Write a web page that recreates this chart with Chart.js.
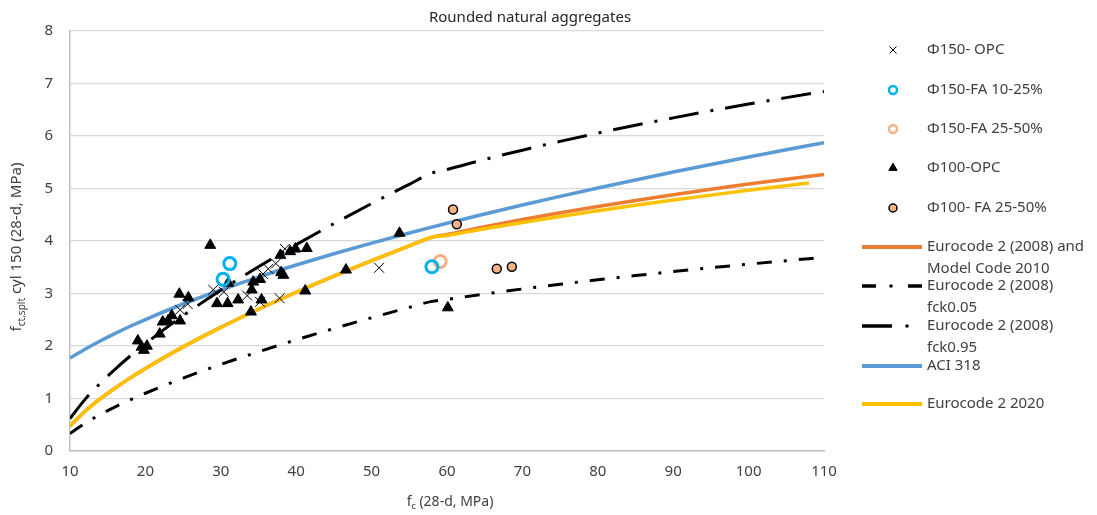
<!DOCTYPE html>
<html>
<head>
<meta charset="utf-8">
<script src="https://cdn.jsdelivr.net/npm/chart.js@4.4.1/dist/chart.umd.min.js"></script>
<style>
html,body{margin:0;padding:0;background:#fff;}
canvas{display:block;}
</style>
</head>
<body>
<canvas id="c" width="1097" height="515"></canvas>
<script>
// ---------- DATA ----------
const TITLE = "Rounded natural aggregates";
const X_TICKS = [10,20,30,40,50,60,70,80,90,100,110];
const Y_TICKS = [0,1,2,3,4,5,6,7,8];

// Φ150- OPC
const P150_OPC_X = [24.6, 25.6, 29.0, 30.4, 33.5, 35.2, 37.8, 35.6, 36.3, 37.3, 38.5, 51.0];
const P150_OPC_Y = [2.69, 2.80, 3.07, 3.03, 2.96, 2.84, 2.91, 3.37, 3.47, 3.57, 3.85, 3.49];
// Φ150-FA 10-25%
const P150_FA10_X = [30.3, 31.2, 58.0];
const P150_FA10_Y = [3.27, 3.57, 3.51];
// Φ150-FA 25-50%
const P150_FA25_X = [59.1];
const P150_FA25_Y = [3.61];
// Φ100-OPC
const P100_OPC_X = [19.0, 19.5, 19.8, 20.2, 21.9, 22.3, 23.0, 23.5, 24.5, 24.6, 25.7, 28.6, 29.5, 30.9, 31.0, 32.3, 34.0, 34.1, 34.3, 35.2, 35.4, 37.9, 38.0, 38.3, 39.2, 39.9, 41.2, 41.4, 46.6, 53.7, 60.1];
const P100_OPC_Y = [2.10, 1.98, 1.92, 2.00, 2.23, 2.46, 2.48, 2.58, 2.99, 2.48, 2.92, 3.92, 2.81, 2.81, 3.20, 2.88, 2.65, 3.07, 3.22, 3.27, 2.88, 3.73, 3.40, 3.35, 3.80, 3.85, 3.05, 3.86, 3.45, 4.15, 2.73];
// Φ100- FA 25-50%
const P100_FA25_X = [60.8, 61.3, 66.6, 68.6];
const P100_FA25_Y = [4.60, 4.32, 3.47, 3.51];

// Code curves
const FC_LINE = [10,12,14,16,18,20,25,30,35,40,45,50,55,58,60,65,70,75,80,85,90,95,100,105,110];
const EC2_2008 = [0.476,0.756,0.991,1.200,1.393,1.572,1.983,2.355,2.700,3.024,3.331,3.625,3.907,4.072,4.125,4.272,4.408,4.537,4.658,4.773,4.881,4.985,5.084,5.178,5.268];
const EC2_005 = [0.333,0.529,0.694,0.840,0.975,1.100,1.388,1.649,1.890,2.117,2.332,2.538,2.735,2.850,2.888,2.990,3.086,3.176,3.261,3.341,3.417,3.490,3.559,3.625,3.688];
const EC2_095 = [0.619,0.983,1.288,1.560,1.811,2.044,2.578,3.062,3.510,3.931,4.330,4.713,5.079,5.294,5.363,5.554,5.730,5.898,6.055,6.205,6.345,6.481,6.609,6.731,6.848];
const ACI318 = [1.771,1.940,2.095,2.240,2.376,2.504,2.800,3.067,3.313,3.542,3.757,3.960,4.153,4.265,4.338,4.515,4.685,4.850,5.009,5.163,5.313,5.458,5.600,5.738,5.873];
const FC_EC2020 = [10,12,14,16,18,20,25,30,35,40,45,50,55,58,60,65,70,75,80,85,90,95,100,105,108];
const EC2_2020 = [0.476,0.756,0.991,1.200,1.393,1.572,1.983,2.355,2.700,3.024,3.331,3.625,3.907,4.072,4.106,4.233,4.354,4.468,4.576,4.680,4.779,4.874,4.966,5.054,5.106];

// ---------- STYLE ----------
const FONT = '"Noto Sans", "Liberation Sans", sans-serif';
const TXT = '#404040';
const C_ORANGE = '#ED7D31', C_BLUE = '#5B9BD5', C_YELLOW = '#FFC000';
const C_CYAN = '#00B0F0', C_PEACH = '#F4B183';
const DASH_005 = [15,12,3,12];
const DASH_095 = [30,12,3,12];

const pts = (xs, ys) => xs.map((x,i)=>({x:x, y:ys[i]}));

const lineDs = (label, xs, ys, color, width, dash, order) => ({
  label, data: pts(xs, ys), showLine: true, pointRadius: 0, pointHoverRadius: 0,
  borderColor: color, backgroundColor: color, borderWidth: width,
  borderDash: dash || [], cubicInterpolationMode: 'monotone', order: order, fill: false
});

const datasets = [
  {label:'Φ150- OPC', data: pts(P150_OPC_X,P150_OPC_Y), pointStyle:'crossRot', pointRadius:7, borderColor:'#000', borderWidth:1, backgroundColor:'#000', order:0},
  {label:'Φ150-FA 10-25%', data: pts(P150_FA10_X,P150_FA10_Y), pointStyle:'circle', pointRadius:6, borderColor:C_CYAN, borderWidth:3, backgroundColor:'rgba(0,0,0,0)', order:0},
  {label:'Φ150-FA 25-50%', data: pts(P150_FA25_X,P150_FA25_Y), pointStyle:'circle', pointRadius:6, borderColor:C_PEACH, borderWidth:3, backgroundColor:'rgba(0,0,0,0)', order:0},
  {label:'Φ100-OPC', data: pts(P100_OPC_X,P100_OPC_Y), pointStyle:'triangle', pointRadius:6.3, borderColor:'#000', borderWidth:1, backgroundColor:'#000', order:0},
  {label:'Φ100- FA 25-50%', data: pts(P100_FA25_X,P100_FA25_Y), pointStyle:'circle', pointRadius:4.5, borderColor:'#000', borderWidth:1.5, backgroundColor:C_PEACH, order:0},
  lineDs('Eurocode 2 (2008) and Model Code 2010', FC_LINE, EC2_2008, C_ORANGE, 3.5, null, 5),
  lineDs('Eurocode 2 (2008) fck0.05', FC_LINE, EC2_005, '#000', 3, DASH_005, 2),
  lineDs('Eurocode 2 (2008) fck0.95', FC_LINE, EC2_095, '#000', 3, DASH_095, 2),
  lineDs('ACI 318', FC_LINE, ACI318, C_BLUE, 3.5, null, 3),
  lineDs('Eurocode 2 2020', FC_EC2020, EC2_2020, C_YELLOW, 3.5, null, 4),
];

// ---------- OVERLAY (title, axis titles with subscripts, legend) ----------
function drawRuns(ctx, runs, cx, cy) {
  let total = 0;
  runs.forEach(r => { ctx.font = r[1] + 'px ' + FONT; total += ctx.measureText(r[0]).width; });
  let x = cx - total/2;
  ctx.textAlign = 'left';
  ctx.textBaseline = 'alphabetic';
  runs.forEach(r => {
    ctx.font = r[1] + 'px ' + FONT;
    ctx.fillText(r[0], x, cy + r[2]);
    x += ctx.measureText(r[0]).width;
  });
}

const LEG = [
  {t:'marker', ds:0, y:50, lines:['Φ150- OPC']},
  {t:'marker', ds:1, y:90, lines:['Φ150-FA 10-25%']},
  {t:'marker', ds:2, y:129, lines:['Φ150-FA 25-50%']},
  {t:'marker', ds:3, y:168, lines:['Φ100-OPC']},
  {t:'marker', ds:4, y:208, lines:['Φ100- FA 25-50%']},
  {t:'line', ds:5, y:247, lines:['Eurocode 2 (2008) and','Model Code 2010']},
  {t:'d005', ds:6, y:286, lines:['Eurocode 2 (2008)','fck0.05']},
  {t:'d095', ds:7, y:326, lines:['Eurocode 2 (2008)','fck0.95']},
  {t:'line', ds:8, y:366, lines:['ACI 318']},
  {t:'line', ds:9, y:404, lines:['Eurocode 2 2020']},
];

const overlay = {
  id: 'overlay',
  afterDraw(chart) {
    const ctx = chart.ctx;
    ctx.save();
    ctx.fillStyle = '#262626';
    // title
    ctx.font = '15px ' + FONT;
    ctx.textAlign = 'center'; ctx.textBaseline = 'middle';
    ctx.fillText(TITLE, 530, 18);
    // x axis title
    ctx.fillStyle = TXT;
    drawRuns(ctx, [['f',14,0],['c',9,3],[' (28-d, MPa)',14,0]], 450, 506);
    // y axis title
    ctx.save();
    ctx.translate(21, 247);
    ctx.rotate(-Math.PI/2);
    drawRuns(ctx, [['f',15,0],['ct,splt',10,4],[' cyl 150 (28-d, MPa)',15,0]], 0, 0);
    ctx.restore();

    // legend
    const lx0 = 862, lx1 = 922, mx = 893, tx = 927;
    LEG.forEach(e => {
      const ds = chart.data.datasets[e.ds];
      ctx.save();
      if (e.t === 'marker') {
        ctx.fillStyle = ds.backgroundColor;
        ctx.strokeStyle = ds.borderColor;
        ctx.lineWidth = ds.borderWidth;
        let r = ds.pointRadius;
        let bw = ds.borderWidth;
        if (ds.pointStyle === 'circle' && e.ds !== 4) { r = 4; bw = 2.5; ctx.lineWidth = bw; }
        if (ds.pointStyle === 'triangle') r = 4.8;
        if (e.ds === 4) r = 4;
        if (ds.pointStyle === 'crossRot') r = 5;
        Chart.helpers.drawPoint(ctx, {pointStyle: ds.pointStyle, radius: r, rotation: 0, borderWidth: bw}, mx, e.y);
      } else {
        ctx.strokeStyle = ds.borderColor;
        ctx.lineWidth = ds.borderWidth + 0.5;
        ctx.lineCap = 'butt';
        ctx.beginPath();
        if (e.t === 'line') {
          ctx.moveTo(lx0, e.y); ctx.lineTo(lx1, e.y);
        } else if (e.t === 'd005') {
          ctx.moveTo(lx0, e.y); ctx.lineTo(lx0+14, e.y);
          ctx.moveTo(lx1-14, e.y); ctx.lineTo(lx1, e.y);
        } else {
          ctx.moveTo(lx0, e.y); ctx.lineTo(lx0+30, e.y);
        }
        ctx.stroke();
        if (e.t === 'd005' || e.t === 'd095') {
          ctx.fillStyle = '#000';
          ctx.beginPath();
          ctx.arc(e.t === 'd005' ? 891 : 907, e.y, 1.8, 0, Math.PI*2);
          ctx.fill();
        }
      }
      ctx.restore();
      ctx.fillStyle = TXT;
      ctx.font = '15px ' + FONT;
      ctx.textAlign = 'left'; ctx.textBaseline = 'middle';
      e.lines.forEach((s, i) => ctx.fillText(s, tx, e.y + i*22));
    });
    ctx.restore();
  }
};

new Chart(document.getElementById('c'), {
  type: 'scatter',
  data: { datasets },
  options: {
    responsive: false,
    devicePixelRatio: 1,
    animation: false,
    layout: { padding: { top: 31, right: 273, left: 0, bottom: 0 } },
    plugins: { legend: { display: false }, title: { display: false }, tooltip: { enabled: false } },
    scales: {
      x: {
        type: 'linear', min: 10, max: 110,
        afterBuildTicks: (s) => { s.ticks = X_TICKS.map(v => ({value: v})); },
        afterFit: (s) => { s.height = 64; },
        grid: { display: false, drawTicks: false },
        border: { display: true, color: '#BFBFBF', width: 1.5 },
        ticks: { font: { family: FONT, size: 15 }, color: TXT, padding: 12, maxRotation: 0 }
      },
      y: {
        type: 'linear', min: 0, max: 8,
        afterBuildTicks: (s) => { s.ticks = Y_TICKS.map(v => ({value: v})); },
        afterFit: (s) => { s.width = 70; },
        grid: { color: '#D9D9D9', lineWidth: 1.2, drawTicks: false },
        border: { display: true, color: '#BFBFBF', width: 1.5 },
        ticks: { font: { family: FONT, size: 15 }, color: TXT, padding: 17 }
      }
    }
  },
  plugins: [overlay]
});
</script>
</body>
</html>
